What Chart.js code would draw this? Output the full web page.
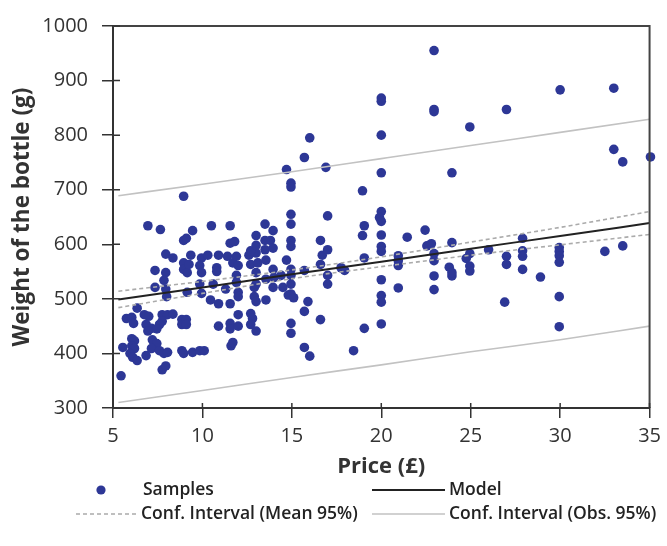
<!DOCTYPE html>
<html><head><meta charset="utf-8">
<script src="https://cdn.jsdelivr.net/npm/chart.js@4"></script>
<style>html,body{margin:0;padding:0;background:#fff}#wrap{width:667px;height:546px;position:relative}</style>
</head><body><div id="wrap"><canvas id="c" width="667" height="546"></canvas></div>
<script>
const priceSamples = [
5.45,5.55,5.75,6.05,6.15,6.35,6.05,6.2,6.05,6.2,5.95,6.1,6.35,
6.75,7.0,6.85,7.15,6.95,7.2,7.45,7.15,6.85,7.6,7.85,8.05,6.95,7.65,7.35,7.35,7.75,8.05,8.35,7.75,7.6,7.45,7.75,7.95,8.0,7.95,7.85,7.95,7.95,8.35,
8.85,8.85,8.85,8.95,8.95,8.95,8.95,8.95,9.15,9.1,9.35,9.25,9.15,9.1,9.1,9.45,9.45,
9.85,10.1,9.95,9.85,9.95,9.85,9.95,10.3,10.45,10.5,10.6,10.8,10.8,10.9,10.9,10.9,
11.4,11.3,11.55,11.55,11.55,11.55,11.55,11.6,11.7,11.7,11.8,11.9,11.9,11.9,12.0,12.0,12.0,12.0,12.0,
12.6,12.7,12.7,12.8,12.7,13.0,12.9,12.9,13.0,13.0,13.0,13.1,12.7,13.0,13.0,13.0,
13.5,13.95,13.8,13.5,13.95,13.5,13.55,13.95,14.0,14.4,13.55,13.95,14.5,13.55,14.7,14.7,
14.95,14.95,14.95,14.95,14.95,14.95,14.95,14.95,14.95,14.95,14.8,15.1,14.95,14.95,15.7,16.0,15.7,15.9,15.7,15.7,16.0,16.6,16.6,16.6,16.7,17.0,16.9,17.0,17.0,17.0,
17.75,17.95,18.45,18.95,19.05,18.95,19.05,19.05,
20.0,20.0,20.0,20.0,20.0,19.9,20.0,20.0,20.0,20.0,20.0,20.0,20.0,20.0,
20.95,20.95,20.95,20.95,21.45,22.45,22.55,22.8,22.95,22.95,22.95,22.95,22.95,22.95,22.95,23.8,23.95,23.95,23.95,23.95,
24.95,24.95,24.75,24.95,24.95,26.0,27.0,27.0,27.0,26.9,27.9,27.9,27.9,27.9,28.9,
30.0,29.95,29.95,29.95,29.95,29.95,29.95,32.5,33.0,33.0,33.5,33.5,35.05
];
const weightSamples = [
359,411,464,466,455,483,427,423,414,409,400,393,387,
471,468,453,446,441,425,418,409,396,405,400,402,634,627,552,521,471,471,472,459,453,445,370,377,504,548,534,518,582,575,
462,453,405,400,688,607,566,554,548,611,580,563,512,462,453,402,625,
405,405,575,561,548,527,510,580,498,634,527,557,550,580,491,450,
578,518,634,602,491,455,445,414,420,566,605,578,543,530,561,512,504,450,471,
580,563,473,464,453,441,521,504,495,616,584,566,588,527,598,548,
637,625,607,607,593,590,571,554,539,543,536,521,521,498,571,737,
712,705,655,637,607,596,554,543,527,509,507,502,455,437,759,795,552,495,477,411,395,607,563,462,580,590,741,652,543,527,
557,552,405,698,634,616,575,446,
868,862,800,731,660,649,642,617,596,587,535,506,494,454,
579,570,561,520,613,626,597,601,955,847,843,583,570,542,517,558,603,731,542,548,
815,583,574,560,551,590,847,578,563,494,611,588,578,554,540,
883,594,587,579,567,504,449,587,886,774,751,597,760
];
const lineX     = [5.3, 10, 15, 20, 25, 30, 35];
const modelY    = [499, 521, 545, 568, 592, 615, 639];
const meanUpper = [514, 532, 553, 577, 604, 631, 660];
const meanLower = [484, 510, 537, 559, 580, 599, 618];
const obsUpper  = [689, 710, 733, 757, 781, 805, 829];
const obsLower  = [310, 332, 356, 379, 403, 425, 450];
const xTicks = [5, 10, 15, 20, 25, 30, 35];
const yTicks = [300, 400, 500, 600, 700, 800, 900, 1000];
const legendLabels = ['Samples', 'Model', 'Conf. Interval (Mean 95%)', 'Conf. Interval (Obs. 95%)'];

const pts = priceSamples.map((x, i) => ({x: x, y: weightSamples[i]}));
const toLine = ys => lineX.map((x, i) => ({x: x, y: ys[i]}));

const AXIS = '#333';
const BLUE = '#2D3796';
const FONT = '"Open Sans", "DejaVu Sans", sans-serif';

const frameTicks = {
  id: 'frameTicks',
  afterDatasetsDraw(chart) {
    const {ctx, chartArea: a, scales} = chart;
    ctx.save();
    ctx.strokeStyle = '#444';
    ctx.lineWidth = 2;
    ctx.beginPath();
    ctx.moveTo(a.left, a.top); ctx.lineTo(a.right, a.top); ctx.lineTo(a.right, a.bottom);
    ctx.stroke();
    ctx.strokeStyle = AXIS; ctx.lineWidth = 1.5;
    ctx.beginPath();
    scales.y.ticks.forEach(t => { const p = scales.y.getPixelForValue(t.value); ctx.moveTo(a.left, p); ctx.lineTo(a.left + 7, p); });
    scales.x.ticks.forEach(t => { const p = scales.x.getPixelForValue(t.value); ctx.moveTo(p, a.bottom); ctx.lineTo(p, a.bottom - 5); });
    ctx.stroke();
    ctx.restore();
  }
};

const customLegend = {
  id: 'customLegend',
  afterDraw(chart) {
    const ctx = chart.ctx;
    const ds = chart.data.datasets;
    ctx.save();
    ctx.font = '600 17.5px ' + FONT;
    ctx.fillStyle = '#222';
    ctx.textBaseline = 'middle';
    ctx.textAlign = 'left';
    const r1 = 490, r2 = 514;
    ctx.beginPath(); ctx.fillStyle = ds[0].backgroundColor; ctx.arc(101, r1, 4.6, 0, Math.PI * 2); ctx.fill();
    ctx.fillStyle = '#222';
    ctx.fillText(legendLabels[0], 143, r1);
    ctx.strokeStyle = ds[1].borderColor; ctx.lineWidth = ds[1].borderWidth;
    ctx.beginPath(); ctx.moveTo(372, r1); ctx.lineTo(445, r1); ctx.stroke();
    ctx.fillText(legendLabels[1], 449, r1);
    ctx.strokeStyle = ds[2].borderColor; ctx.lineWidth = ds[2].borderWidth; ctx.setLineDash(ds[2].borderDash);
    ctx.beginPath(); ctx.moveTo(76, r2); ctx.lineTo(137, r2); ctx.stroke();
    ctx.setLineDash([]);
    ctx.fillText(legendLabels[2], 141, r2);
    ctx.strokeStyle = ds[4].borderColor; ctx.lineWidth = ds[4].borderWidth;
    ctx.beginPath(); ctx.moveTo(372, r2); ctx.lineTo(445, r2); ctx.stroke();
    ctx.fillText(legendLabels[3], 449, r2);
    ctx.restore();
  }
};

const lineDs = (label, ys, color, width, dash, order) => ({
  type: 'line', label: label, data: toLine(ys), borderColor: color, borderWidth: width,
  borderDash: dash, pointRadius: 0, fill: false, cubicInterpolationMode: 'monotone', order: order
});

new Chart(document.getElementById('c'), {
  type: 'scatter',
  data: {
    datasets: [
      {type: 'scatter', label: legendLabels[0], data: pts, backgroundColor: BLUE, borderWidth: 0, pointRadius: 4.8, clip: false, order: 5},
      lineDs(legendLabels[1], modelY, '#222', 2, [], 1),
      lineDs(legendLabels[2], meanUpper, '#ababab', 1.6, [4, 3], 2),
      lineDs(legendLabels[2], meanLower, '#ababab', 1.6, [4, 3], 2),
      lineDs(legendLabels[3], obsUpper, '#c2c2c2', 1.6, [], 3),
      lineDs(legendLabels[3], obsLower, '#c2c2c2', 1.6, [], 3)
    ]
  },
  options: {
    responsive: false, animation: false, devicePixelRatio: 1,
    layout: {padding: {top: 16, right: 12, left: 0, bottom: 0}},
    plugins: {legend: {display: false}, tooltip: {enabled: false}},
    scales: {
      x: {
        type: 'linear', min: 5, max: 35,
        afterBuildTicks: s => { s.ticks = xTicks.map(v => ({value: v})); },
        afterFit: s => { s.height = 138; },
        ticks: {font: {family: FONT, size: 20}, color: '#333', padding: 6, callback: v => String(v)},
        grid: {drawOnChartArea: false, drawTicks: true, tickLength: 10, color: AXIS, lineWidth: 1.5},
        border: {display: true, color: AXIS, width: 2},
        title: {display: true, text: 'Price (£)', font: {family: FONT, size: 22, weight: 'bold'}, color: '#333', padding: {top: 0, bottom: 66}}
      },
      y: {
        type: 'linear', min: 300, max: 1000,
        afterBuildTicks: s => { s.ticks = yTicks.map(v => ({value: v})); },
        afterFit: s => { s.width = 113; },
        ticks: {font: {family: FONT, size: 20}, color: '#333', padding: 14, callback: v => String(v)},
        grid: {drawOnChartArea: false, drawTicks: true, tickLength: 11, color: AXIS, lineWidth: 1.5},
        border: {display: true, color: AXIS, width: 2},
        title: {display: true, text: 'Weight of the bottle (g)', font: {family: FONT, size: 22.5, weight: 'bold'}, color: '#333', padding: {top: 9, bottom: 0}}
      }
    }
  },
  plugins: [frameTicks, customLegend]
});
</script></body></html>
